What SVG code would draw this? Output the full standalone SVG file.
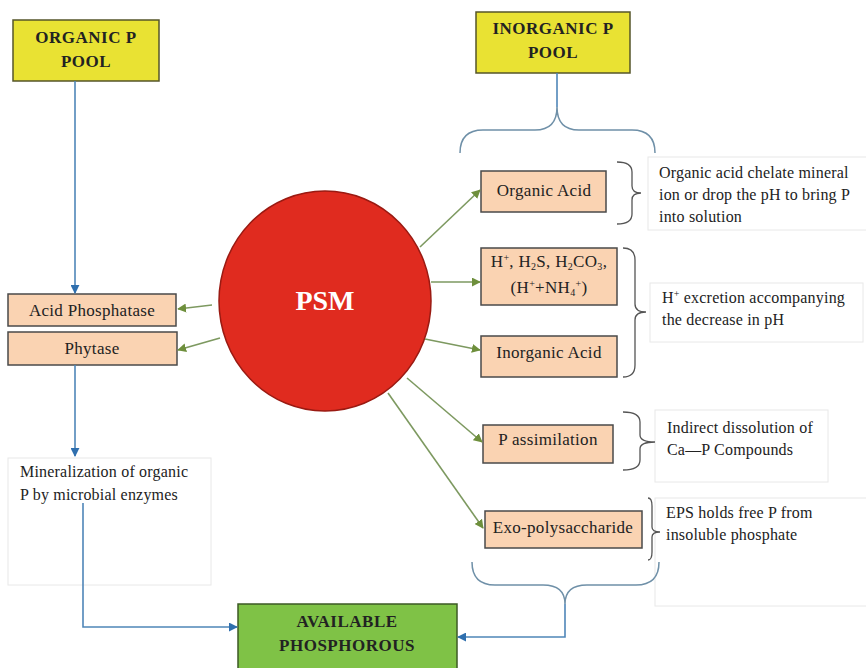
<svg xmlns="http://www.w3.org/2000/svg" width="866" height="668" viewBox="0 0 866 668">
<defs>
<marker id="ag" viewBox="0 0 10 10" refX="9" refY="5" markerWidth="9" markerHeight="9" markerUnits="userSpaceOnUse" orient="auto">
<path d="M0,0 L10,5 L0,10 Z" fill="#6e8f3c"/>
</marker>
<marker id="ab" viewBox="0 0 10 10" refX="9" refY="5" markerWidth="9" markerHeight="9" markerUnits="userSpaceOnUse" orient="auto">
<path d="M0,0 L10,5 L0,10 Z" fill="#2f6fae"/>
</marker>
<style>
text{font-family:"Liberation Serif","Times New Roman",serif;fill:#222}
.pool{fill:#e9e233;stroke:#55552a;stroke-width:1.5}
.peach{fill:#fad3b2;stroke:#4a4a4a;stroke-width:1.5}
.avail{fill:#7fc246;stroke:#3c5a25;stroke-width:1.5}
.tbox{fill:#fff;stroke:#e8e8e8;stroke-width:1}
.title{font-size:17px;font-weight:bold;text-anchor:middle;letter-spacing:0.5px}
.lbl{font-size:17px;text-anchor:middle;letter-spacing:0.3px}
.desc{font-size:16px;letter-spacing:0.2px}
.g{stroke:#7d9960;stroke-width:1.6;fill:none;marker-end:url(#ag)}
.b{stroke:#4f86b8;stroke-width:1.6;fill:none}
.bm{marker-end:url(#ab)}
.brace{stroke:#555;stroke-width:1.3;fill:none}
.bbrace{stroke:#6f90a8;stroke-width:1.5;fill:none}
</style>
</defs>
<g id="organic-pool">
<rect class="pool" x="13" y="20" width="146" height="61"/>
<text class="title" x="86" y="43">ORGANIC P</text>
<text class="title" x="86" y="67">POOL</text>
</g>
<g id="inorganic-pool">
<rect class="pool" x="476" y="12" width="154" height="61"/>
<text class="title" x="553" y="34">INORGANIC P</text>
<text class="title" x="553" y="58">POOL</text>
</g>
<g id="psm">
<ellipse cx="325" cy="301" rx="106" ry="110" fill="#e02b1f" stroke="#9a1a12" stroke-width="1.5"/>
<text x="325" y="310" style="font-size:28px;font-weight:bold;fill:#fff;text-anchor:middle">PSM</text>
</g>
<g id="acid-phosphatase">
<rect class="peach" x="8" y="294" width="168" height="32"/>
<text class="lbl" x="92" y="316">Acid Phosphatase</text>
</g>
<g id="phytase">
<rect class="peach" x="8" y="332" width="169" height="33"/>
<text class="lbl" x="92" y="354">Phytase</text>
</g>
<g id="mineralization">
<rect class="tbox" x="8" y="458" width="203" height="127"/>
<text class="desc" x="20" y="477">Mineralization of organic</text>
<text class="desc" x="20" y="500">P by microbial enzymes</text>
</g>
<g id="organic-acid">
<rect class="peach" x="481" y="171" width="125" height="41"/>
<text class="lbl" x="544" y="196">Organic Acid</text>
</g>
<g id="organic-acid-note">
<rect class="tbox" x="648" y="157" width="225" height="73"/>
<text class="desc" x="659" y="178">Organic acid chelate mineral</text>
<text class="desc" x="659" y="200">ion or drop the pH to bring P</text>
<text class="desc" x="659" y="222">into solution</text>
</g>
<g id="h-ions">
<rect class="peach" x="481" y="248" width="136" height="57"/>
<text class="lbl" x="549" y="267">H<tspan dy="-6" font-size="10">+</tspan><tspan dy="6">, H</tspan><tspan dy="3" font-size="10">2</tspan><tspan dy="-3">S, H</tspan><tspan dy="3" font-size="10">2</tspan><tspan dy="-3">CO</tspan><tspan dy="3" font-size="10">3</tspan><tspan dy="-3">,</tspan></text>
<text class="lbl" x="549" y="293">(H<tspan dy="-6" font-size="10">+</tspan><tspan dy="6">+NH</tspan><tspan dy="3" font-size="10">4</tspan><tspan dy="-9" font-size="10">+</tspan><tspan dy="6">)</tspan></text>
</g>
<g id="inorganic-acid">
<rect class="peach" x="481" y="336" width="136" height="41"/>
<text class="lbl" x="549" y="358">Inorganic Acid</text>
</g>
<g id="h-note">
<rect class="tbox" x="650" y="283" width="213" height="59"/>
<text class="desc" x="662" y="303">H<tspan dy="-6" font-size="10">+</tspan><tspan dy="6"> excretion accompanying</tspan></text>
<text class="desc" x="662" y="325">the decrease in pH</text>
</g>
<g id="p-assimilation">
<rect class="peach" x="483" y="425" width="130" height="38"/>
<text class="lbl" x="548" y="445">P assimilation</text>
</g>
<g id="p-assimilation-note">
<rect class="tbox" x="655" y="410" width="173" height="72"/>
<text class="desc" x="667" y="433">Indirect dissolution of</text>
<text class="desc" x="667" y="455">Ca—P Compounds</text>
</g>
<g id="exo-polysaccharide">
<rect class="peach" x="485" y="511" width="157" height="37"/>
<text class="lbl" x="563" y="533">Exo-polysaccharide</text>
</g>
<g id="eps-note">
<rect class="tbox" x="655" y="498" width="220" height="108"/>
<text class="desc" x="666" y="518">EPS holds free P from</text>
<text class="desc" x="666" y="540">insoluble phosphate</text>
</g>
<g id="available">
<rect class="avail" x="238" y="604" width="219" height="70"/>
<text class="title" x="347" y="627">AVAILABLE</text>
<text class="title" x="347" y="651">PHOSPHOROUS</text>
</g>
<g id="connectors">
<path class="b bm" d="M75,81 V293"/>
<path class="b bm" d="M75,365 V456"/>
<path class="b bm" d="M83,503 V627 H237"/>
<path class="b" d="M557,73 V107"/>
<path class="bbrace" d="M460,153 Q460,130 483,130 L535,130 Q557,130 557,107 Q557,130 579,130 L632,130 Q655,130 655,153"/>
<path class="bbrace" d="M472,562 Q472,585 495,585 L543,585 Q565,585 565,604 Q565,585 587,585 L636,585 Q659,585 659,562"/>
<path class="b bm" d="M565,604 V637 H458"/>
<path class="brace" d="M617,162 Q632,162 632,172 L632,186 Q632,193 641,193 Q632,193 632,200 L632,214 Q632,224 617,224"/>
<path class="brace" d="M623,248 Q635,248 635,260 L635,304 Q635,312 646,312 Q635,312 635,320 L635,365 Q635,377 623,377"/>
<path class="brace" d="M623,412 Q640,412 640,422 L640,435 Q640,442 655,442 Q640,442 640,449 L640,460 Q640,470 623,470"/>
<path class="brace" d="M648,498 Q652,498 652,506 L652,527 Q652,532 660,532 Q652,532 652,537 L652,552 Q652,560 648,560"/>
<path class="g" d="M212,305 L178,309"/>
<path class="g" d="M220,338 L178,350"/>
<path class="g" d="M420,247 L480,190"/>
<path class="g" d="M431,282 L480,282"/>
<path class="g" d="M425,339 L480,350"/>
<path class="g" d="M407,378 L482,442"/>
<path class="g" d="M388,393 L483,528"/>
</g>
</svg>
